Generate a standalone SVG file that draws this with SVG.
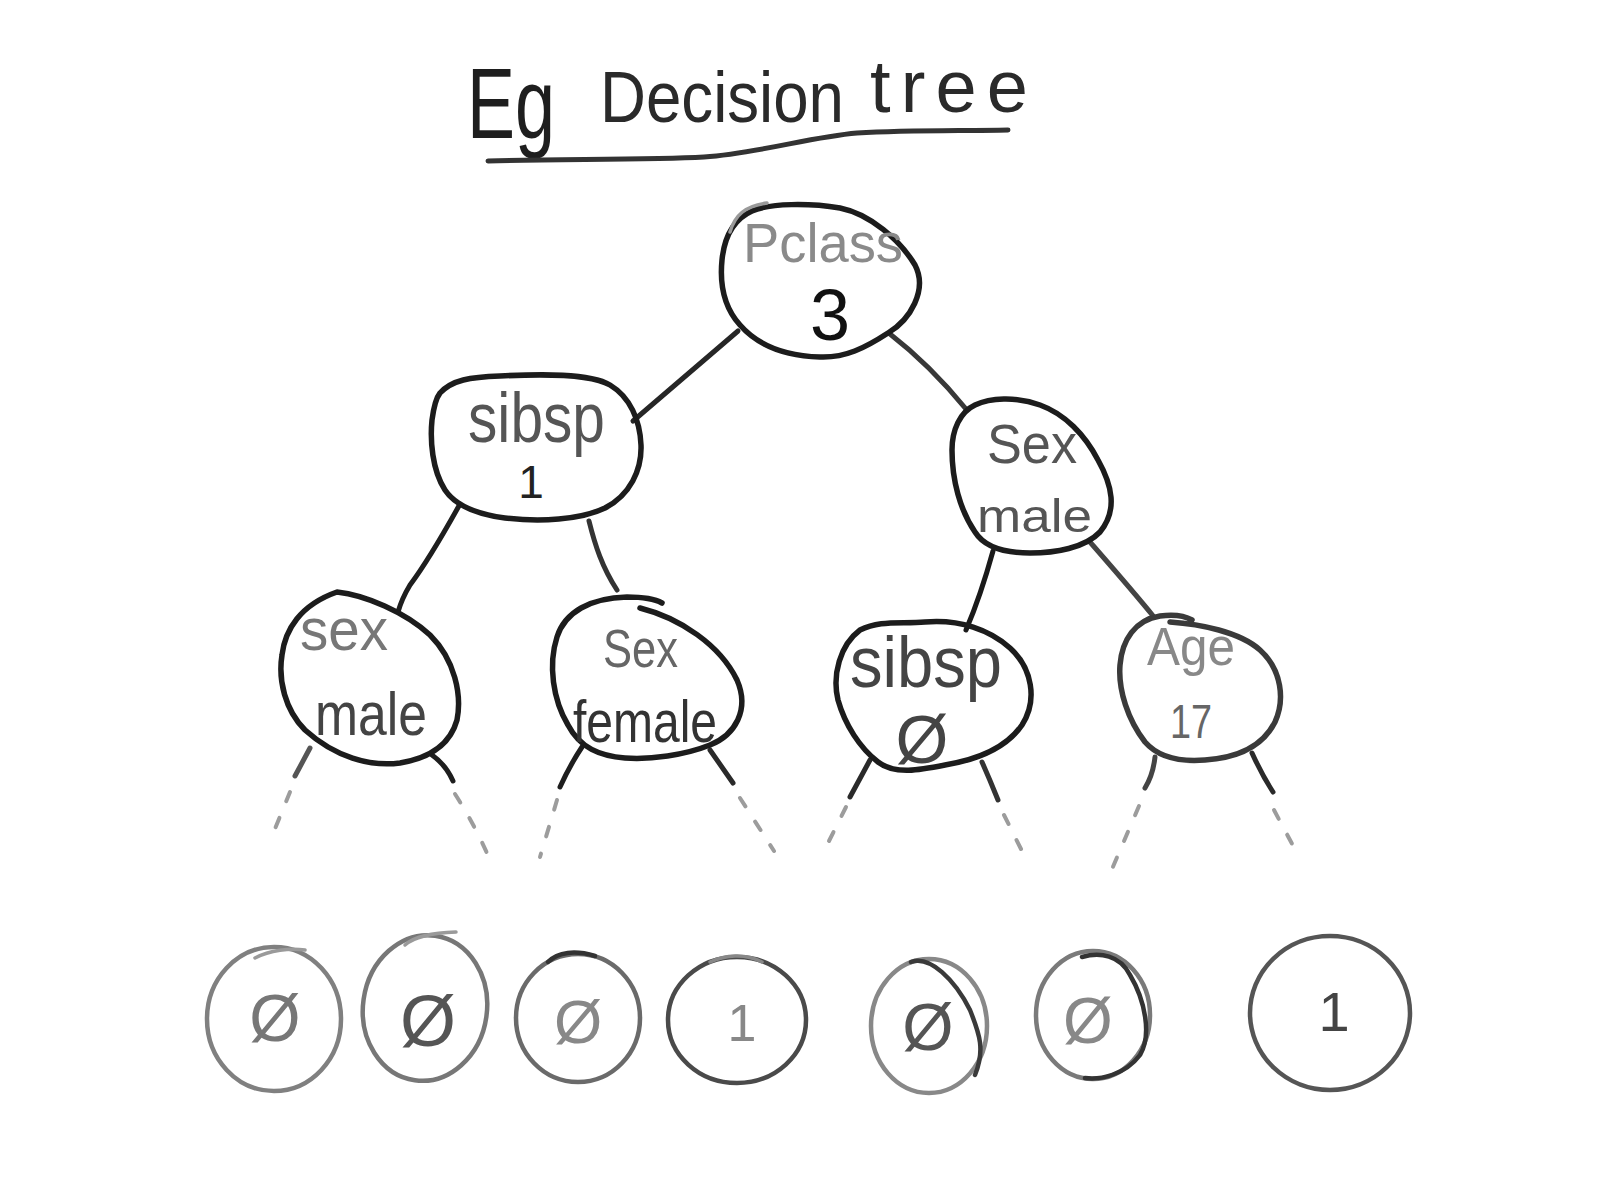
<svg xmlns="http://www.w3.org/2000/svg" width="1600" height="1200" viewBox="0 0 1600 1200">
  <style>
    text { font-family: "Liberation Sans", "DejaVu Sans", sans-serif; }
    .ink { fill: none; stroke: #1c1c1c; stroke-width: 5.5; stroke-linecap: round; stroke-linejoin: round; }
    .flick { fill: none; stroke: #9a9a9a; stroke-width: 3.5; stroke-linecap: round; }
    .edge { fill: none; stroke: #262626; stroke-width: 5; stroke-linecap: round; }
    .dash { fill: none; stroke: #9c9c9c; stroke-width: 4; stroke-linecap: round; stroke-dasharray: 10 18; }
    .leaf { fill: none; stroke-width: 4.5; stroke-linecap: round; }
  </style>

  <rect width="1600" height="1200" fill="#ffffff"/>

  <!-- heading -->
  <g id="title">
    <text x="467" y="138" font-size="100" fill="#1e1e1e" textLength="88" lengthAdjust="spacingAndGlyphs">Eg</text>
    <text y="122" font-size="72" fill="#2a2a2a"><tspan x="600" textLength="244" lengthAdjust="spacingAndGlyphs">Decision</tspan> <tspan x="870" y="112" font-size="74" textLength="158" lengthAdjust="spacing">tree</tspan></text>
    <path class="ink" style="stroke:#333;stroke-width:5" d="M 488 161 C 560 159, 650 160, 704 157 C 760 153, 810 137, 857 133 C 910 130, 960 131, 1008 130"/>
  </g>

  <!-- connectors -->
  <g id="connectors">
    <path class="edge" d="M 738 331 Q 690 372 633 421"/>
    <path class="edge" style="stroke:#383838" d="M 890 334 Q 930 365 966 409"/>
    <path class="edge" style="stroke:#1e1e1e" d="M 460 504 C 440 540, 425 565, 410 585 C 404 595, 400 605, 398 612"/>
    <path class="edge" style="stroke:#333" d="M 589 521 C 595 545, 602 567, 617 590"/>
    <path class="edge" style="stroke:#1a1a1a" d="M 993 551 C 985 580, 978 602, 966 630"/>
    <path class="edge" style="stroke:#444" d="M 1090 542 C 1110 565, 1132 590, 1154 617"/>

    <!-- short solid stubs under the third row -->
    <path class="edge" style="stroke:#555" d="M 310 748 L 295 776"/>
    <path class="edge" style="stroke:#1e1e1e" d="M 432 755 Q 446 765 453 781"/>
    <path class="edge" style="stroke:#1e1e1e" d="M 582 747 Q 570 765 560 787"/>
    <path class="edge" style="stroke:#2a2a2a" d="M 710 750 L 733 783"/>
    <path class="edge" style="stroke:#2a2a2a" d="M 870 760 L 850 797"/>
    <path class="edge" style="stroke:#333" d="M 982 762 Q 990 780 998 800"/>
    <path class="edge" style="stroke:#444" d="M 1155 757 Q 1153 775 1145 788"/>
    <path class="edge" style="stroke:#2a2a2a" d="M 1252 753 Q 1262 775 1273 792"/>

    <!-- dashed continuations -->
    <path class="dash" d="M 290 792 L 272 836"/>
    <path class="dash" d="M 455 794 Q 475 825 490 860"/>
    <path class="dash" d="M 557 800 L 540 857"/>
    <path class="dash" d="M 740 798 L 774 851"/>
    <path class="dash" d="M 846 807 L 824 851"/>
    <path class="dash" d="M 1004 815 L 1029 865"/>
    <path class="dash" d="M 1139 806 L 1112 869"/>
    <path class="dash" d="M 1274 810 L 1298 855"/>
  </g>

  <!-- root -->
  <g id="node-pclass">
    <path class="ink" d="M 752 211 C 770 203, 810 203, 840 208 C 870 214, 900 240, 915 265 C 928 290, 910 320, 888 333 C 865 348, 845 358, 820 357 C 790 356, 760 348, 740 325 C 722 305, 720 280, 722 260 C 724 240, 732 220, 752 211 Z"/>
    <path class="flick" d="M 730 232 C 735 215, 745 206, 767 203"/>
    <text x="743" y="262" font-size="56" fill="#8a8a8a" textLength="160" lengthAdjust="spacingAndGlyphs">Pclass</text>
    <text x="830" y="340" font-size="72" fill="#111" text-anchor="middle">3</text>
  </g>

  <!-- second row -->
  <g id="node-sibsp-1">
    <path class="ink" d="M 440 393 C 452 380, 470 377, 500 376 C 540 374, 590 373, 610 385 C 630 397, 640 420, 641 445 C 642 470, 630 495, 605 508 C 580 520, 540 522, 505 518 C 475 514, 455 505, 445 490 C 432 470, 430 440, 432 420 C 434 405, 436 398, 440 393 Z"/>
    <text x="468" y="442" font-size="70" fill="#555" textLength="137" lengthAdjust="spacingAndGlyphs">sibsp</text>
    <text x="531" y="498" font-size="46" fill="#222" text-anchor="middle">1</text>
  </g>

  <g id="node-sex-male-top">
    <path class="ink" d="M 975 405 C 990 398, 1015 396, 1040 405 C 1065 414, 1085 435, 1098 460 C 1112 485, 1118 510, 1100 532 C 1085 548, 1055 553, 1030 553 C 1005 553, 985 548, 975 532 C 960 510, 952 480, 952 450 C 952 430, 960 412, 975 405 Z"/>
    <text x="987" y="463" font-size="56" fill="#555" textLength="90" lengthAdjust="spacingAndGlyphs">Sex</text>
    <text x="977" y="532" font-size="46" fill="#555" textLength="115" lengthAdjust="spacingAndGlyphs">male</text>
  </g>

  <!-- third row -->
  <g id="node-sex-male">
    <path class="ink" d="M 337 592 C 365 595, 405 612, 430 635 C 455 660, 462 695, 457 720 C 450 745, 430 758, 400 763 C 370 767, 335 757, 305 730 C 285 710, 278 680, 282 655 C 285 630, 300 605, 337 592 Z"/>
    <text x="300" y="650" font-size="60" fill="#777" textLength="88" lengthAdjust="spacingAndGlyphs">sex</text>
    <text x="315" y="735" font-size="62" fill="#444" textLength="112" lengthAdjust="spacingAndGlyphs">male</text>
  </g>

  <g id="node-sex-female">
    <path class="ink" d="M 640 608 C 680 618, 720 645, 737 680 C 750 710, 735 735, 710 745 C 685 755, 650 760, 625 758 C 600 756, 580 748, 568 725 C 553 700, 548 665, 557 637 C 565 612, 590 598, 627 597 C 645 597, 655 599, 662 603"/>
    <text x="603" y="667" font-size="54" fill="#666" textLength="75" lengthAdjust="spacingAndGlyphs">Sex</text>
    <text x="573" y="742" font-size="60" fill="#333" textLength="144" lengthAdjust="spacingAndGlyphs">female</text>
  </g>

  <g id="node-sibsp-0">
    <path class="ink" d="M 860 630 C 880 620, 900 624, 925 622 C 960 619, 990 630, 1010 648 C 1032 668, 1038 700, 1022 725 C 1005 750, 975 760, 945 765 C 920 770, 895 775, 878 762 C 860 748, 845 725, 838 700 C 832 675, 840 645, 860 630 Z"/>
    <text x="850" y="687" font-size="72" fill="#444" textLength="152" lengthAdjust="spacingAndGlyphs">sibsp</text>
    <text x="922" y="763" font-size="68" fill="#444" text-anchor="middle">Ø</text>
  </g>

  <g id="node-age">
    <path class="ink" style="stroke:#3a3a3a" d="M 1170 622 C 1200 624, 1240 632, 1260 650 C 1282 670, 1285 700, 1275 722 C 1262 748, 1235 758, 1205 760 C 1180 762, 1158 757, 1145 742 C 1128 720, 1118 690, 1120 665 C 1122 640, 1135 620, 1160 616 C 1175 614, 1185 616, 1192 620"/>
    <text x="1147" y="665" font-size="53" fill="#888" textLength="88" lengthAdjust="spacingAndGlyphs">Age</text>
    <text x="1170" y="738" font-size="48" fill="#666" textLength="42" lengthAdjust="spacingAndGlyphs">17</text>
  </g>

  <!-- leaves -->
  <g id="leaf-1">
    <ellipse class="leaf" cx="274" cy="1019" rx="67" ry="72" stroke="#808080"/>
    <path class="flick" d="M 255 958 C 270 950, 290 948, 305 950"/>
    <text x="275" y="1041" font-size="66" fill="#777" text-anchor="middle">Ø</text>
  </g>
  <g id="leaf-2">
    <ellipse class="leaf" cx="425" cy="1008" rx="62" ry="73" stroke="#777" transform="rotate(8 425 1008)"/>
    <path class="flick" d="M 405 945 C 415 936, 432 933, 456 932"/>
    <text x="428" y="1046" font-size="72" fill="#555" text-anchor="middle">Ø</text>
  </g>
  <g id="leaf-3">
    <ellipse class="leaf" cx="578" cy="1018" rx="62" ry="64" stroke="#6a6a6a"/>
    <path class="leaf" stroke="#333" d="M 548 962 C 558 952, 575 950, 595 956"/>
    <text x="578" y="1043" font-size="62" fill="#888" text-anchor="middle">Ø</text>
  </g>
  <g id="leaf-4">
    <ellipse class="leaf" cx="737" cy="1020" rx="69" ry="63" stroke="#4a4a4a"/>
    <path class="flick" style="stroke:#888" d="M 710 962 C 725 955, 745 953, 762 962"/>
    <text x="742" y="1041" font-size="52" fill="#888" text-anchor="middle">1</text>
  </g>
  <g id="leaf-5">
    <ellipse class="leaf" cx="929" cy="1026" rx="58" ry="67" stroke="#888"/>
    <path class="leaf" stroke="#3a3a3a" d="M 911 962 C 930 955, 955 980, 970 1010 C 980 1035, 985 1050, 975 1075"/>
    <text x="928" y="1050" font-size="66" fill="#555" text-anchor="middle">Ø</text>
  </g>
  <g id="leaf-6">
    <ellipse class="leaf" cx="1093" cy="1015" rx="57" ry="64" stroke="#7a7a7a"/>
    <path class="leaf" stroke="#333" d="M 1082 957 C 1100 952, 1120 955, 1130 975 C 1145 1000, 1152 1035, 1140 1055 C 1125 1075, 1100 1080, 1085 1078"/>
    <text x="1088" y="1043" font-size="64" fill="#888" text-anchor="middle">Ø</text>
  </g>
  <g id="leaf-7">
    <ellipse class="leaf" cx="1330" cy="1013" rx="80" ry="77" stroke="#555"/>
    <text x="1334" y="1031" font-size="56" fill="#444" text-anchor="middle">1</text>
  </g>
</svg>
